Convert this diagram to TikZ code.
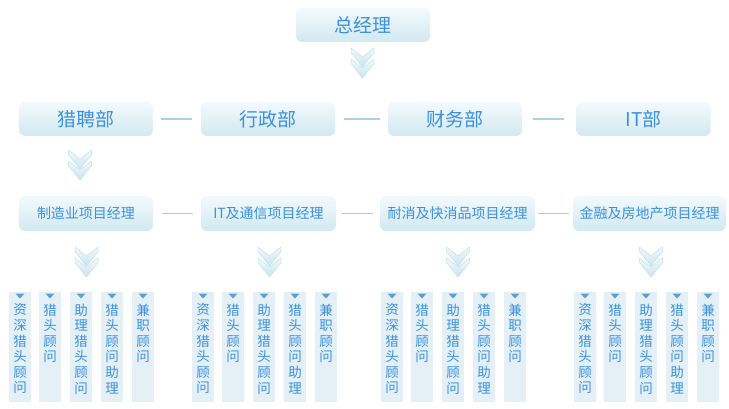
\documentclass[tikz,border=0pt]{standalone}
\usepackage{fontspec}
\setmainfont{Noto Sans CJK SC}
\definecolor{txtblue}{HTML}{3A91E0}
\definecolor{boxtop}{HTML}{F3FAFD}
\definecolor{boxbot}{HTML}{D2E8F1}
\definecolor{connc}{HTML}{A9D3E4}
\definecolor{colfill}{HTML}{E4F0F6}
\definecolor{triblue}{HTML}{5B9FDA}
\definecolor{chevtop}{HTML}{F0F9FC}
\definecolor{chevbot}{HTML}{C9E5EF}
\definecolor{chevedge}{HTML}{C2E0EA}
\tikzset{
  bigbox/.style={rounded corners=6pt, top color=boxtop, bottom color=boxbot, draw=none,
    minimum width=134pt, minimum height=34pt, inner sep=0pt, text=txtblue,
    font=\fontsize{19}{21}\selectfont},
  midbox/.style={bigbox, font=\fontsize{14}{16}\selectfont, minimum height=35pt},
  conn/.style={draw=connc, line width=1.1pt},
  colbox/.style={fill=colfill, draw=none, minimum width=22pt, minimum height=110pt, inner sep=0pt, anchor=north},
  coltext/.style={text=txtblue, font=\fontsize{13.5}{15.6}\selectfont, align=center, inner sep=0pt, anchor=north},
  chev/.pic={
    \foreach \d in {0,11}{
      \draw[draw=chevedge, line width=0.5pt, top color=chevtop, bottom color=chevbot, line join=round]
        (-11.5,\d) -- (0,\d+9) -- (11.5,\d) -- (11.5,\d+4.5) -- (0,\d+19) -- (-11.5,\d+4.5) -- cycle;
    }
  }
}
\begin{document}
\begin{tikzpicture}[x=1pt,y=-1pt]
\useasboundingbox (0,0) rectangle (729,409);

% top
\node[bigbox] (gm) at (363,25) {总经理};
\pic at (362.5,48) {chev};

% row 2
\node[bigbox] (lp) at (86,119) {猎聘部};
\node[bigbox] (xz) at (268,119) {行政部};
\node[bigbox] (cw) at (455,119) {财务部};
\node[bigbox] (it) at (643.5,119) {IT部};
\draw[conn, shorten <=8pt, shorten >=9pt] (lp.east) -- (xz.west);
\draw[conn, shorten <=9pt, shorten >=8pt] (xz.east) -- (cw.west);
\draw[conn, shorten <=11pt, shorten >=12pt] (cw.east) -- (it.west);
\pic at (80,150) {chev};

% row 3
\node[midbox] (zz) at (86,213.5) {制造业项目经理};
\node[midbox, minimum width=135pt] (tx) at (268.5,213.5) {IT及通信项目经理};
\node[midbox, minimum width=155pt] (nx) at (457.5,213.5) {耐消及快消品项目经理};
\node[midbox, minimum width=153pt] (jr) at (649.5,213.5) {金融及房地产项目经理};
\draw[conn, shorten <=9pt, shorten >=8pt] (zz.east) -- (tx.west);
\draw[conn, shorten <=6pt, shorten >=7pt] (tx.east) -- (nx.west);
\draw[conn, shorten <=3pt, shorten >=4pt] (nx.east) -- (jr.west);
\pic at (86.5,247) {chev};
\pic at (269.5,247) {chev};
\pic at (458,247) {chev};
\pic at (651,247) {chev};

% columns
\foreach \g/\xa/\xb/\xc/\xd/\xe in {1/20/50/81/112/143, 2/203/233/264/295/326, 3/392/422/453/484/515, 4/585/615/646/677/708}{
  \foreach \i/\x/\t in {1/\xa/{资\\深\\猎\\头\\顾\\问}, 2/\xb/{猎\\头\\顾\\问}, 3/\xc/{助\\理\\猎\\头\\顾\\问}, 4/\xd/{猎\\头\\顾\\问\\助\\理}, 5/\xe/{兼\\职\\顾\\问}}{
    \node[colbox] (c\g\i) at (\x,292) {};
    \fill[triblue] (\x-4.5,293.5) -- (\x+4.5,293.5) -- (\x,298.5) -- cycle;
    \node[coltext] (t\g\i) at (\x,303.5) {\t};
  }
}
\end{tikzpicture}
\end{document}
